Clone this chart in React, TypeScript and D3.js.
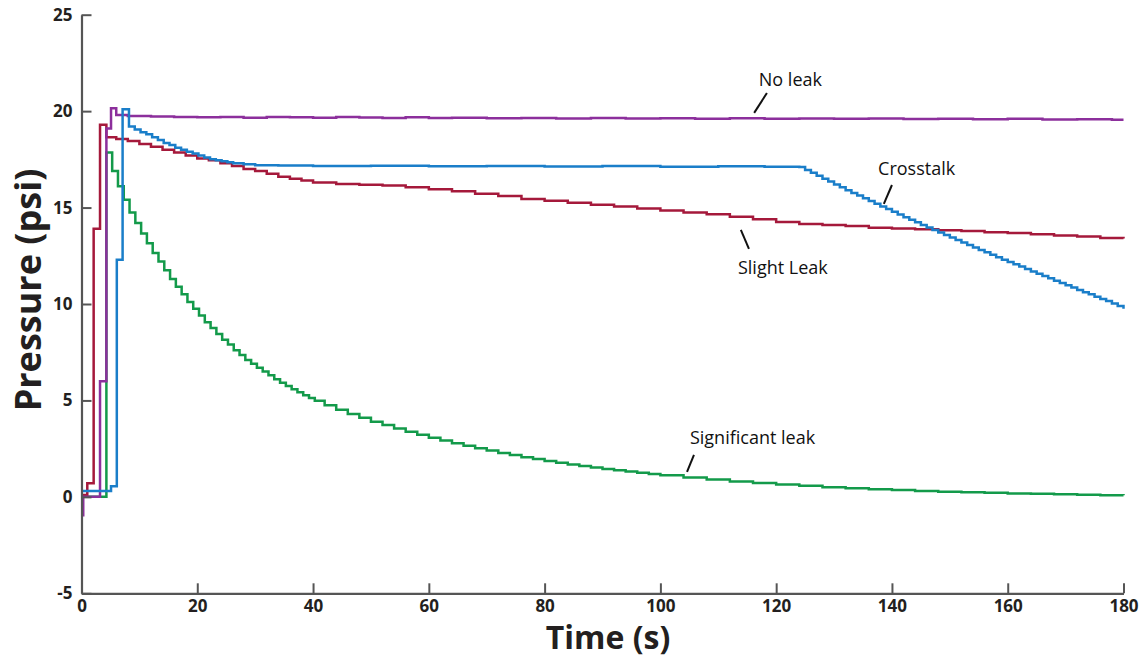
import * as d3 from 'd3';
import React, { useRef, useEffect } from 'react';

// [time (s), pressure (psi)]
const noLeak = [
  [0, -0.95], [0.3, 0.0], [3.2, 6.0], [4.3, 19.1], [5.1, 20.15], [6.0, 19.8], [8, 19.75], [12, 19.72],
  [16, 19.7], [20, 19.68], [24, 19.7], [28, 19.66], [32, 19.7], [36, 19.68], [40, 19.66], [44, 19.7],
  [48, 19.67], [52, 19.65], [56, 19.68], [60, 19.65], [64, 19.66], [70, 19.63], [76, 19.65], [82, 19.62],
  [88, 19.64], [94, 19.62], [100, 19.63], [106, 19.6], [112, 19.63], [118, 19.6], [124, 19.62], [130, 19.6],
  [136, 19.62], [142, 19.59], [148, 19.6], [154, 19.58], [160, 19.6], [166, 19.57], [172, 19.58],
  [178, 19.55], [180, 19.55],
];

const crosstalk = [
  [0, 0.3], [5.1, 0.55], [6.1, 12.3], [7.1, 20.1], [8.2, 19.2], [9.2, 19.05], [10.2, 18.9], [11.2, 18.8],
  [12.2, 18.65], [13.2, 18.5], [14.2, 18.35], [15.2, 18.25], [16.2, 18.1], [17.2, 18.0], [18.2, 17.9],
  [19.2, 17.8], [20.2, 17.7], [21.2, 17.6], [22.2, 17.5], [23.2, 17.45], [24.2, 17.4], [25.2, 17.35],
  [26.2, 17.3], [28, 17.25], [30, 17.2], [34, 17.18], [40, 17.15], [50, 17.17], [60, 17.14], [70, 17.16],
  [80, 17.13], [90, 17.15], [100, 17.12], [110, 17.14], [118, 17.11], [124, 17.1],
  [125, 16.95], [126, 16.8], [127, 16.65], [128, 16.5], [129, 16.35], [130, 16.2], [131, 16.05],
  [132, 15.9], [133, 15.75], [134, 15.62], [135, 15.48], [136, 15.34], [137, 15.2], [138, 15.06],
  [139, 14.92], [140, 14.78], [141, 14.64], [142, 14.5], [143, 14.37], [144, 14.24], [145, 14.1],
  [146, 13.97], [147, 13.84], [148, 13.71], [149, 13.58], [150, 13.45], [151, 13.32], [152, 13.19],
  [153, 13.06], [154, 12.93], [155, 12.8], [156, 12.68], [157, 12.56], [158, 12.43], [159, 12.3],
  [160, 12.18], [161, 12.06], [162, 11.94], [163, 11.81], [164, 11.69], [165, 11.57], [166, 11.45],
  [167, 11.33], [168, 11.21], [169, 11.09], [170, 10.97], [171, 10.85], [172, 10.73], [173, 10.61],
  [174, 10.5], [175, 10.38], [176, 10.26], [177, 10.15], [178, 10.03], [179, 9.9], [180, 9.75],
];

const slightLeak = [
  [0, 0.1], [1.0, 0.7], [2.1, 13.9], [3.2, 19.3], [4.3, 18.65], [6, 18.55], [8, 18.45], [10, 18.3],
  [12, 18.15], [14, 18.0], [16, 17.85], [18, 17.7], [20, 17.55], [22, 17.45], [24, 17.3], [26, 17.15],
  [28, 17.0], [30, 16.9], [32, 16.75], [34, 16.6], [36, 16.5], [38, 16.4], [40, 16.3], [44, 16.22],
  [48, 16.18], [52, 16.15], [56, 16.05], [60, 15.95], [64, 15.85], [68, 15.72], [72, 15.6], [76, 15.45],
  [80, 15.35], [84, 15.25], [88, 15.15], [92, 15.05], [96, 14.95], [100, 14.85], [104, 14.75],
  [108, 14.65], [112, 14.52], [116, 14.4], [120, 14.25], [124, 14.15], [128, 14.1], [132, 14.05],
  [136, 13.95], [140, 13.92], [144, 13.88], [148, 13.82], [152, 13.78], [156, 13.72], [160, 13.68],
  [164, 13.62], [168, 13.55], [172, 13.5], [176, 13.42], [180, 13.4],
];

const significantLeak = [
  [0, 0.0], [4.3, 17.85], [5.3, 16.9], [6.3, 16.1], [7.3, 15.4], [8.3, 14.75], [9.3, 14.2], [10.3, 13.65],
  [11.3, 13.15], [12.3, 12.65], [13.3, 12.2], [14.3, 11.75], [15.3, 11.3], [16.3, 10.9], [17.3, 10.5],
  [18.3, 10.1], [19.3, 9.75], [20.3, 9.4], [21.3, 9.05], [22.3, 8.75], [23.3, 8.45], [24.3, 8.15],
  [25.3, 7.9], [26.3, 7.6], [27.3, 7.35], [28.3, 7.1], [29.3, 6.9], [30.3, 6.7], [31.3, 6.5], [32.3, 6.3],
  [33.3, 6.1], [34.3, 5.92], [35.3, 5.75], [36.3, 5.58], [37.3, 5.42], [38.3, 5.27], [39.3, 5.12],
  [40.3, 4.98], [42, 4.75], [44, 4.52], [46, 4.3], [48, 4.1], [50, 3.9], [52, 3.72], [54, 3.55],
  [56, 3.38], [58, 3.22], [60, 3.06], [62, 2.92], [64, 2.78], [66, 2.65], [68, 2.52], [70, 2.4],
  [72, 2.28], [74, 2.17], [76, 2.06], [78, 1.96], [80, 1.86], [82, 1.77], [84, 1.68], [86, 1.6],
  [88, 1.52], [90, 1.45], [92, 1.38], [94, 1.31], [96, 1.25], [98, 1.18], [100, 1.12], [104, 1.0],
  [108, 0.9], [112, 0.8], [116, 0.72], [120, 0.64], [124, 0.57], [128, 0.5], [132, 0.45], [136, 0.4],
  [140, 0.35], [144, 0.31], [148, 0.27], [152, 0.24], [156, 0.21], [160, 0.18], [164, 0.16],
  [168, 0.13], [172, 0.11], [176, 0.09], [180, 0.08],
];

const xTicks = [0, 20, 40, 60, 80, 100, 120, 140, 160, 180];
const yTicks = [-5, 0, 5, 10, 15, 20, 25];

// label text, text anchor [t, p], leader line [t1, p1, t2, p2]
const labels = [
  { text: 'No leak', at: [117.0, 21.31], leader: [116.2, 19.91, 118.4, 20.94] },
  { text: 'Crosstalk', at: [137.6, 16.69], leader: [138.6, 15.19, 140.0, 16.17] },
  { text: 'Slight Leak', at: [113.4, 11.56], leader: [113.9, 13.84, 115.3, 12.86] },
  { text: 'Significant leak', at: [105.1, 2.75], leader: [104.6, 1.3, 105.8, 2.18] },
];

const W = 1146;
const H = 659;
const font = '"Open Sans", "Noto Sans", sans-serif';

function App() {
  const ref = useRef(null);

  useEffect(() => {
    const svg = d3.select(ref.current);
    svg.selectAll('*').remove();

    const x = d3.scaleLinear().domain([0, 180]).range([81.5, 1123.5]);
    const y = d3.scaleLinear().domain([-5, 25]).range([593.3, 14.7]);

    const line = d3
      .line()
      .x(d => x(d[0]))
      .y(d => y(d[1]))
      .curve(d3.curveStepAfter);

    const series = [
      { data: significantLeak, color: '#139a4a' },
      { data: slightLeak, color: '#a5193b' },
      { data: noLeak, color: '#8c2f9c' },
      { data: crosstalk, color: '#1a7ec9' },
    ];

    svg
      .selectAll('path.series')
      .data(series)
      .enter()
      .append('path')
      .attr('class', 'series')
      .attr('d', d => line(d.data))
      .attr('fill', 'none')
      .attr('stroke', d => d.color)
      .attr('stroke-width', 2.5)
      .attr('stroke-linejoin', 'miter');

    const yAxis = d3
      .axisLeft(y)
      .tickValues(yTicks)
      .tickSizeInner(-10)
      .tickSizeOuter(0)
      .tickPadding(9)
      .tickFormat(d => String(d));
    const gy = svg.append('g').attr('transform', `translate(${x(0)},0)`).call(yAxis);

    const xAxis = d3
      .axisBottom(x)
      .tickValues(xTicks)
      .tickSizeInner(-10)
      .tickSizeOuter(0)
      .tickPadding(7)
      .tickFormat(d => String(d));
    const gx = svg.append('g').attr('transform', `translate(0,${y(-5)})`).call(xAxis);

    [gx, gy].forEach(g => {
      g.select('.domain').attr('stroke', '#555').attr('stroke-width', 2.2);
      g.selectAll('.tick line').attr('stroke', '#555').attr('stroke-width', 2);
      g.selectAll('.tick text')
        .attr('fill', '#231f20')
        .style('font-family', font)
        .style('font-weight', 700)
        .style('font-size', '17px');
    });

    const ann = svg.append('g');
    labels.forEach(l => {
      ann
        .append('line')
        .attr('x1', x(l.leader[0]))
        .attr('y1', y(l.leader[1]))
        .attr('x2', x(l.leader[2]))
        .attr('y2', y(l.leader[3]))
        .attr('stroke', '#111')
        .attr('stroke-width', 2);
      ann
        .append('text')
        .attr('x', x(l.at[0]))
        .attr('y', y(l.at[1]))
        .attr('fill', '#111')
        .style('font-family', font)
        .style('font-size', '18px')
        .text(l.text);
    });

    svg
      .append('text')
      .attr('x', 608)
      .attr('y', 649)
      .attr('text-anchor', 'middle')
      .attr('fill', '#231f20')
      .style('font-family', font)
      .style('font-weight', 700)
      .style('font-size', '32px')
      .text('Time (s)');

    svg
      .append('text')
      .attr('transform', 'translate(41,290) rotate(-90)')
      .attr('text-anchor', 'middle')
      .attr('fill', '#231f20')
      .style('font-family', font)
      .style('font-weight', 700)
      .style('font-size', '36px')
      .text('Pressure (psi)');
  }, []);

  return (
    <svg
      ref={ref}
      width={W}
      height={H}
      style={{ position: 'absolute', left: 0, top: 0, background: '#fff' }}
    />
  );
}

export default App;
